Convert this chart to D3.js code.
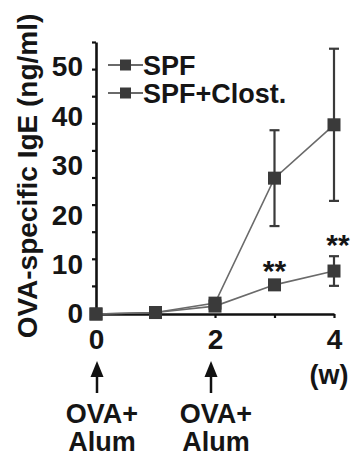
<!DOCTYPE html>
<html>
<head>
<meta charset="utf-8">
<script src="https://cdn.jsdelivr.net/npm/d3@7"></script>
<style>
  html, body { margin: 0; padding: 0; background: #fff; }
  svg { display: block; }
  text { font-family: "Liberation Sans", Arial, Helvetica, sans-serif; font-weight: bold; fill: #151515; }
</style>
</head>
<body>
<svg id="chart" width="351" height="458"></svg>
<script>
// ---- data ----
const weeks = [0, 1, 2, 3, 4];
const seriesNames = ["SPF", "SPF+Clost."];
const spfValues = [0, 0.3, 2.2, 27.5, 38.3];
const spfErrors = [0, 0, 0, 9.7, 15.4];
const clostValues = [0, 0.3, 1.6, 5.9, 8.7];
const clostErrors = [0, 0, 0, 0, 3.0];
const yTickLabels = [0, 10, 20, 30, 40, 50];
const yMinorTicks = [0, 5, 10, 15, 20, 25, 30, 35, 40, 45, 50];
const xTickLabels = [0, 2, 4];
const significance = [{ week: 3, series: 1, label: "**" }, { week: 4, series: 1, label: "**" }];
const immunizations = [0, 2];
const immunizationText = ["OVA+", "Alum"];
const yTitle = "OVA-specific IgE (ng/ml)";
const xUnit = "(w)";

const allSeries = [
  { name: seriesNames[0], values: spfValues, errors: spfErrors },
  { name: seriesNames[1], values: clostValues, errors: clostErrors }
];

const svg = d3.select("#chart");
const x = d3.scaleLinear().domain([0, 4]).range([96, 334]);
const y = d3.scaleLinear().domain([0, 50]).range([314, 67]);
const yTick = d3.scaleLinear().domain([0, 50]).range([313, 42]);

const lineColor = "#6a6a6a";
const markColor = "#3a3a3a";

// y axis (line + minor ticks)
const gY = svg.append("g").attr("transform", "translate(96,0)")
  .call(d3.axisLeft(yTick).tickValues(yMinorTicks).tickSize(4).tickSizeOuter(0).tickFormat(""));
gY.select(".domain").attr("stroke", "#111").attr("stroke-width", 2.6);
gY.selectAll(".tick line").attr("stroke", "#111").attr("stroke-width", 2.2);

// y labels
const gYL = svg.append("g").attr("transform", "translate(96,0)")
  .call(d3.axisLeft(y).tickValues(yTickLabels).tickSize(0).tickPadding(13).tickFormat(d3.format("d")));
gYL.select(".domain").remove();
gYL.selectAll("text").attr("font-size", 28).attr("font-family", null).attr("fill", null);

// x axis
const gX = svg.append("g").attr("transform", "translate(0,314)")
  .call(d3.axisBottom(x).tickValues(weeks).tickSize(4).tickSizeOuter(0).tickFormat(""));
gX.select(".domain").attr("stroke", "#111").attr("stroke-width", 2.6);
gX.selectAll(".tick line").attr("stroke", "#111").attr("stroke-width", 2.2);

const gXL = svg.append("g").attr("transform", "translate(0,314)")
  .call(d3.axisBottom(x).tickValues(xTickLabels).tickSize(0).tickPadding(15).tickFormat(d3.format("d")));
gXL.select(".domain").remove();
gXL.selectAll("text").attr("font-size", 28).attr("font-family", null).attr("fill", null);

svg.append("text").attr("x", x(4) - 5).attr("y", 384).attr("text-anchor", "middle")
  .attr("font-size", 27).text(xUnit);

// y title
svg.append("text").attr("transform", "translate(37,176) rotate(-90)")
  .attr("text-anchor", "middle").attr("font-size", 28).text(yTitle);

// series lines
const line = d3.line().x((d, i) => x(weeks[i])).y(d => y(d));
allSeries.forEach(s => {
  svg.append("path").datum(s.values).attr("d", line)
    .attr("fill", "none").attr("stroke", lineColor).attr("stroke-width", 1.6);
});

// error bars
allSeries.forEach(s => {
  const g = svg.append("g");
  s.values.forEach((v, i) => {
    const e = s.errors[i];
    if (!e) return;
    const cx = x(weeks[i]);
    g.append("line").attr("x1", cx).attr("x2", cx).attr("y1", y(v + e)).attr("y2", y(v - e))
      .attr("stroke", markColor).attr("stroke-width", 2.2);
    [v + e, v - e].forEach(b => g.append("line").attr("x1", cx - 5).attr("x2", cx + 5)
      .attr("y1", y(b)).attr("y2", y(b)).attr("stroke", markColor).attr("stroke-width", 2.2));
  });
});

// markers
const sq = 13;
allSeries.forEach(s => {
  svg.append("g").selectAll("rect").data(s.values).join("rect")
    .attr("x", (d, i) => x(weeks[i]) - sq / 2).attr("y", d => y(d) - sq / 2)
    .attr("width", sq).attr("height", sq).attr("fill", markColor);
});

// significance
significance.forEach(sg => {
  const s = allSeries[sg.series];
  const i = weeks.indexOf(sg.week);
  const top = y(s.values[i] + s.errors[i]) - (s.errors[i] ? 10 : 13);
  svg.append("text").attr("x", x(sg.week) + (sg.week === 4 ? 4 : 0)).attr("y", top + 9).attr("text-anchor", "middle")
    .attr("font-size", 30).text(sg.label);
});

// legend
seriesNames.forEach((n, k) => {
  const ly = 65 + k * 28;
  svg.append("line").attr("x1", 108).attr("x2", 143).attr("y1", ly).attr("y2", ly)
    .attr("stroke", lineColor).attr("stroke-width", 1.8);
  svg.append("rect").attr("x", 120).attr("y", ly - 5.5).attr("width", 11).attr("height", 11).attr("fill", markColor);
  svg.append("text").attr("x", 143).attr("y", ly + 10).attr("font-size", 27).attr("fill", "#3a3a3a").text(n);
});

// immunization arrows
immunizations.forEach(w => {
  const ax = x(w) + (w === 0 ? 1 : -4);
  svg.append("line").attr("x1", ax).attr("x2", ax).attr("y1", 372).attr("y2", 393)
    .attr("stroke", "#111").attr("stroke-width", 2.5);
  svg.append("path").attr("d", d3.line()([[ax, 361], [ax - 6.5, 377], [ax + 6.5, 377]]) + "Z").attr("fill", "#111");
  immunizationText.forEach((t, k) => {
    svg.append("text").attr("x", ax + 5).attr("y", 423 + k * 28).attr("text-anchor", "middle")
      .attr("font-size", 27).text(t);
  });
});
</script>
</body>
</html>
